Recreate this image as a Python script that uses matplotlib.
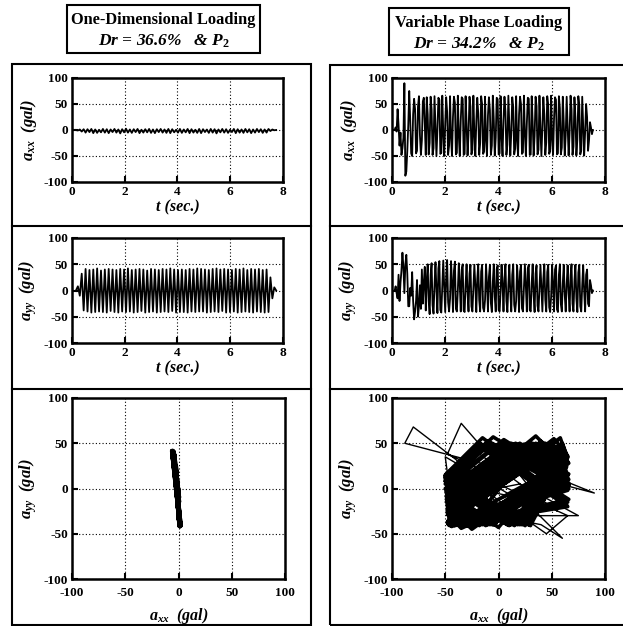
import numpy as np
import matplotlib
matplotlib.use("Agg")
import matplotlib.pyplot as plt
from matplotlib.patches import Rectangle
from matplotlib.lines import Line2D

# ---------------- data ----------------
# Left column: One-Dimensional Loading (half-cycle extremes, 0.073 s apart from 0.15 s)
t_left_start = 0.15
t_left_step = 0.073
ayy_left = [0, 8, -10, 32, -38,
            41, -40, 39, -42, 40, -41, 42, -40, 38, -41,
            40, -42, 41, -39, 40, -41, 39, -42, 41, -40,
            40, -41, 42, -40, 39, -42, 40, -41, 41, -39,
            40, -42, 38, -41, 41, -40, 40, -42, 39, -41,
            41, -40, 40, -41, 42, -39, 40, -42, 39, -41,
            40, -41, 39, -42, 41, -40, 40, -41, 42, -40,
            41, -40, 40, -42, 39, -41, 41, -40, 42, -41,
            40, -39, 41, -42, 40, -41, 39, -40, 41, -42,
            40, -41, 42, -40, 39, -41, 41, -42, 40, -40,
            41, -41, 39, -42, 40, -41,
            25, -15, 6, 0]
axx_left = [0, -1, 1, -3, 1.5,
            -5, 1.5, -4, 2, -6, 1, -5.5, 0.5, -4.5, 2,
            -5, 1.5, -6, 1, -4, 2, -5, 1, -6.5, 1.5,
            -4.5, 2.5, -5, 1, -5.5, 1.5, -4, 2, -6, 0.5,
            -5, 1.5, -4.5, 2, -5.5, 1, -6, 1.5, -4, 2,
            -5, 1, -5.5, 2, -6, 1.5, -4.5, 0.5, -5, 2,
            -5.5, 1, -4.5, 2, -6, 1.5, -5, 0.5, -5.5, 2,
            -6, 1.5, -4, 1, -5.5, 2, -5, 1.5, -6.5, 1,
            -4.5, 2, -5, 1.5, -5.5, 0.5, -4, 2, -6, 1.5,
            -5, 1, -5.5, 2, -4.5, 1.5, -6, 1, -5, 2,
            -4, 1.5, -5.5, 1, -5, 2,
            -2, 1, -0.5, 0]

# Right column: Variable Phase Loading (quarter-cycle samples, 0.0365 s apart from 0.10 s)
t_right_start = 0.10
t_right_step = 0.0365
n_transient = 33
axx_right = [0, 5, -3, 40, 10, -30, -5, -48, -35, -15, 90, -88, -80, -40, 10, 75,
             20, -45, -50, 30, 60, 40, -45, -40, 45, 65, -10, -48, -20, 55, 62, 10, -48,
             63, 30, -47, -25, 64, 40, -48, -35, 65, 5, -50, 0, 62, 58, -46, -44,
             66, -5, -50, 10, 63, 35, -48, -30, 65, -15, -50, 25, 64, 52, -47, -44,
             66, -10, -50, 18, 63, 60, -48, -46, 65, 12, -49, -8, 64, 45, -47, -38,
             66, -8, -50, 15, 62, 32, -48, -25, 65, 50, -46, -42, 64, -18, -50, 28,
             63, 38, -48, -30, 66, 20, -49, -15, 62, 59, -47, -45, 65, -12, -50, 20,
             64, 35, -48, -28, 66, 10, -49, -5, 63, 44, -47, -36, 65, -20, -50, 30,
             64, 50, -46, -43, 66, -6, -50, 12, 62, 60, -48, -47, 65, 16, -49, -12,
             64, 46, -47, -38, 66, 0, -50, 8, 63, 30, -48, -24, 65, 49, -46, -41,
             66, -16, -48, 22, 63, 58, -47, -45, 65, 42, -47, -34, 64, 14, -49, -10,
             64, 10, -49, -6, 66, 40, -48, -32, 63, 24, -49, -18, 65, 47, -47, -39,
             64, 8, -49, -4,
             50, 25, -40, -20, 15, 5, -8, 0]
ayy_right = [0, 8, -5, -15, 30, -20, 15, 38, 72, 45, -5, 50, 68, 32, -30, -30,
             5, -10, 35, -20, -55, -40, -20, 20, -50, -30, 10, -35, 40, -25, 15, 45, -38,
             20, 50, -20, -45, 30, 52, -28, -44, 10, 54, 0, -43, 42, 56, -37, -42,
             5, 57, 8, -41, 25, 58, -22, -40, -15, 56, 15, -41, 38, 55, -35, -40,
             0, 52, 12, -40, 40, 50, -38, -41, 12, 50, -5, -40, 32, 49, -30, -40,
             3, 49, 10, -41, 22, 50, -18, -40, 36, 49, -33, -40, -18, 50, 14, -40,
             26, 49, -24, -41, 16, 50, -12, -40, 41, 48, -37, -40, -2, 49, 12, -40,
             24, 50, -20, -41, 10, 49, -3, -40, 30, 50, -27, -40, -20, 48, 14, -41,
             36, 49, -34, -40, 4, 50, 8, -40, 42, 49, -37, -40, 14, 50, -9, -41,
             32, 48, -29, -40, 6, 49, 5, -40, 22, 50, -18, -40, 35, 49, -32, -41,
             -12, 49, 12, -40, 40, 48, -36, -41, 30, 50, -26, -40, 14, 49, -8, -40,
             12, 48, -4, -40, 28, 50, -25, -40, 18, 49, -15, -41, 34, 49, -30, -40,
             10, 48, -2, -40,
             30, 40, -25, -30, 20, 10, -5, 0]

time_ticks = [0, 2, 4, 6, 8]
acc_ticks = [-100, -50, 0, 50, 100]
titles = [("One-Dimensional Loading", r"$Dr$ = 36.6%   & $P_2$"),
          ("Variable Phase Loading", r"$Dr$ = 34.2%   & $P_2$")]

t_left = t_left_start + t_left_step * np.arange(len(ayy_left))
t_right = t_right_start + t_right_step * np.arange(len(axx_right))

# ---------------- style ----------------
plt.rcParams['font.family'] = ['Liberation Serif', 'DejaVu Serif']
plt.rcParams['mathtext.fontset'] = 'custom'
plt.rcParams['mathtext.it'] = 'Liberation Serif:italic:bold'
plt.rcParams['mathtext.rm'] = 'Liberation Serif:bold'
plt.rcParams['mathtext.bf'] = 'Liberation Serif:bold'
plt.rcParams['axes.unicode_minus'] = False

W, H = 623, 626
fig = plt.figure(figsize=(W / 100, H / 100), dpi=100)


def rect(x0, y0, x1, y1):
    return [x0 / W, 1 - y1 / H, (x1 - x0) / W, (y1 - y0) / H]


def style(ax, xlim, xticks, xlabel, ylabel, xpad=3, xlabpad=1):
    ax.set_xlim(*xlim)
    ax.set_ylim(-100, 100)
    ax.set_xticks(xticks)
    ax.set_yticks(acc_ticks)
    ax.grid(True, color='black', linestyle=(0, (1, 2)), linewidth=0.8)
    for s in ax.spines.values():
        s.set_linewidth(1.8)
    ax.tick_params(direction='in', length=4, width=1.5, labelsize=9.5)
    ax.tick_params(axis='x', pad=xpad)
    ax.tick_params(axis='y', pad=3)
    for lab in ax.get_xticklabels() + ax.get_yticklabels():
        lab.set_fontweight('bold')
    ax.set_xlabel(xlabel, fontsize=11.5, fontstyle='italic', fontweight='bold', labelpad=xlabpad)
    ax.set_ylabel(ylabel, fontsize=12, fontstyle='italic', fontweight='bold', labelpad=3)


cols = [72, 392]
col_w = [211, 213]
for ci, (x0, series) in enumerate(zip(cols, [(t_left, axx_left, ayy_left), (t_right, axx_right, ayy_right)])):
    t, ax_s, ay_s = series
    a1 = fig.add_axes(rect(x0, 78, x0 + col_w[ci], 182))
    a1.plot(t, ax_s, color='black', linewidth=1.3)
    style(a1, (0, 8), time_ticks, 't (sec.)', r'$a_{xx}$  (gal)')
    a2 = fig.add_axes(rect(x0, 238, x0 + col_w[ci], 343))
    a2.plot(t, ay_s, color='black', linewidth=1.3)
    style(a2, (0, 8), time_ticks, 't (sec.)', r'$a_{yy}$  (gal)')
    a3 = fig.add_axes(rect(x0, 398, x0 + 213, 579))
    if ci == 0:
        a3.plot(ax_s, ay_s, color='black', linewidth=2.4)
    else:
        a3.plot(ax_s[:n_transient + 1], ay_s[:n_transient + 1], color='black', linewidth=1.0)
        a3.plot(ax_s[n_transient:], ay_s[n_transient:], color='black', linewidth=2.6)
    style(a3, (-100, 100), acc_ticks, r'$a_{xx}$  (gal)', r'$a_{yy}$  (gal)', xpad=6, xlabpad=5)

# frames
for (bx0, by0, bx1, by1) in [(12, 64, 311, 625), (330, 65, 640, 625)]:
    fig.add_artist(Rectangle((bx0 / W, 1 - by1 / H), (bx1 - bx0) / W, (by1 - by0) / H,
                             transform=fig.transFigure, fill=False, edgecolor='black',
                             linewidth=1.5, clip_on=False))
    for yy in (226, 389):
        fig.add_artist(Line2D([bx0 / W, bx1 / W], [1 - yy / H, 1 - yy / H],
                              transform=fig.transFigure, color='black', linewidth=1.5))

# title boxes
for (bx0, by0, bx1, by1), (l1, l2) in zip([(67, 5, 260, 53), (389, 8, 569, 55)], titles):
    fig.add_artist(Rectangle((bx0 / W, 1 - by1 / H), (bx1 - bx0) / W, (by1 - by0) / H,
                             transform=fig.transFigure, fill=False, edgecolor='black',
                             linewidth=1.5))
    cx = (bx0 + bx1) / 2 / W
    fig.text(cx, 1 - (by0 + 15) / H, l1, ha='center', va='center', fontsize=11.8, fontweight='bold')
    fig.text(cx, 1 - (by0 + 36) / H, l2, ha='center', va='center', fontsize=12.5,
             fontweight='bold', fontstyle='italic')

fig.savefig('out.png', dpi=100)
